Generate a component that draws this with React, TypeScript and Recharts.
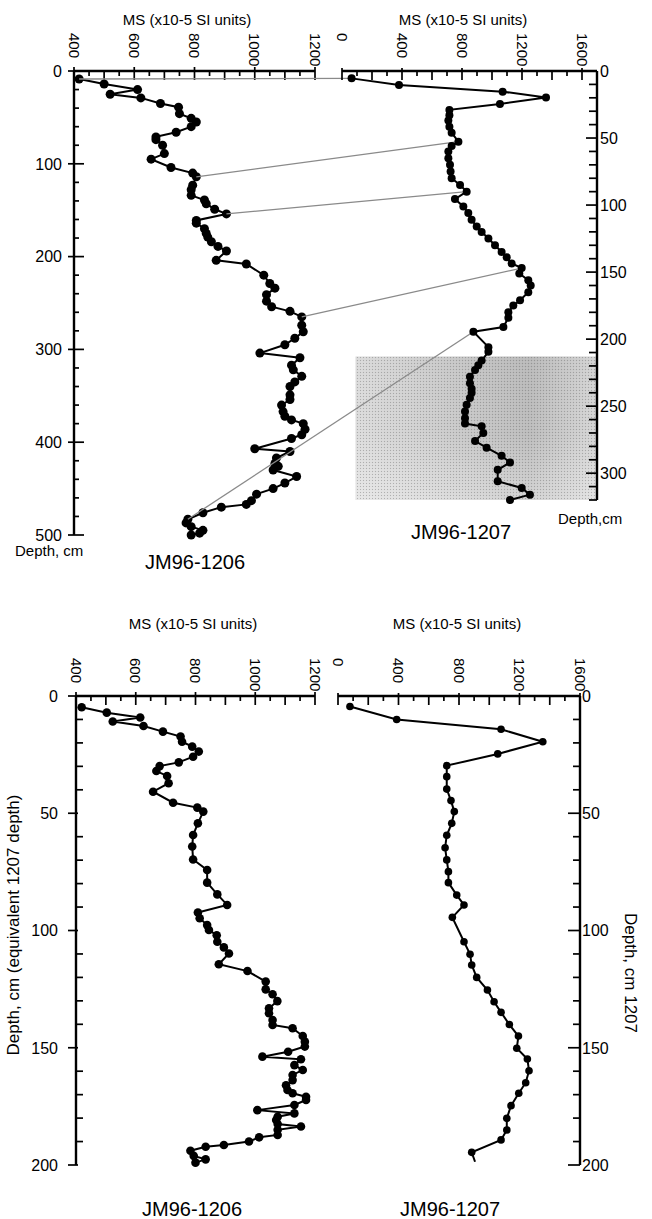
import React, { useEffect, useState } from "react";
import { ScatterChart, Scatter, XAxis, YAxis, ReferenceArea } from "recharts";

const FONT = '"Liberation Sans", Arial, Helvetica, sans-serif';

// JM96-1206, upper panel (own depth scale)
const depth1206 = [8.6, 14, 20, 25, 29, 35, 39, 46, 51, 55, 60, 66, 71, 74, 80, 89, 95, 104, 110, 114, 123, 128, 134, 139, 143, 149, 154, 161, 164, 170, 175, 179, 184, 189, 194, 204, 208, 220, 229, 234, 241, 248, 254, 259, 265, 274, 281, 288, 295, 304, 309, 317, 322, 329, 335, 340, 349, 354, 360, 367, 372, 376, 380, 386, 392, 396, 407, 410, 417, 423, 426, 430, 437, 444, 450, 456, 463, 467, 470, 476, 483, 487, 491, 495, 498, 500];
const ms1206 = [417, 500, 611, 520, 622, 687, 747, 750, 789, 806, 789, 739, 672, 672, 694, 700, 656, 722, 794, 806, 794, 789, 789, 833, 839, 867, 906, 806, 806, 833, 839, 844, 856, 878, 906, 872, 972, 1030, 1050, 1067, 1039, 1039, 1056, 1117, 1156, 1156, 1161, 1133, 1100, 1017, 1150, 1122, 1128, 1156, 1133, 1117, 1117, 1117, 1089, 1094, 1100, 1122, 1161, 1167, 1156, 1122, 1000, 1117, 1072, 1067, 1078, 1061, 1139, 1100, 1061, 1006, 989, 972, 889, 828, 778, 772, 789, 828, 817, 789];

// JM96-1207, upper panel
const depth1207 = [5.5, 10.4, 15.4, 19.7, 24.6, 29, 33, 37, 41.5, 46, 52.7, 56, 60, 65, 70, 75, 80, 85, 90, 95.5, 101, 106, 111, 116, 120, 125, 130, 135, 139, 143.5, 147, 151, 156, 160, 165, 171, 175, 180, 184, 191, 194.5, 206, 209.5, 216, 219.5, 223, 228, 233, 237, 240, 244, 249, 254, 259, 263, 265, 270, 276, 281, 287, 292, 297.5, 306, 311, 316, 320];
const ms1207 = [64, 380, 1071, 1360, 1053, 716, 716, 709, 716, 731, 776, 731, 709, 709, 720, 724, 731, 787, 831, 753, 809, 842, 864, 898, 931, 976, 1020, 1064, 1098, 1131, 1198, 1182, 1242, 1258, 1242, 1187, 1142, 1109, 1109, 1076, 876, 976, 976, 931, 909, 887, 853, 853, 864, 864, 853, 831, 820, 820, 820, 931, 942, 887, 964, 1064, 1120, 1038, 1038, 1198, 1253, 1120];

// correlation tie points: depth in 1206 -> depth in 1207
const tieDepth1206 = [8.6, 114, 154, 265, 483];
const tieDepth1207 = [5.5, 52.7, 90, 147, 194.5];

// lower panel: 1206 on equivalent 1207 depth
const eqDepth1206 = [4.8, 7.1, 9.2, 10.9, 12.8, 15.2, 17.3, 19.5, 21.6, 23.7, 25.9, 28.3, 29.9, 32, 34.1, 37.2, 40.8, 45.5, 47.6, 49.3, 54.3, 59.3, 64.2, 69.7, 74.2, 79.6, 84.6, 89.1, 92.3, 94.8, 97.7, 99.8, 102, 104.8, 107.2, 109.8, 114.4, 117.3, 121.8, 125.1, 127.2, 130.1, 133.2, 135.3, 138.2, 140.3, 141.7, 145, 147.4, 149.5, 151.7, 153.8, 154.9, 157.4, 159.5, 161.6, 163.8, 166, 168, 169.4, 170.9, 172.3, 174.4, 176.6, 178, 179.4, 180.8, 182.5, 183.6, 185, 187.2, 188.2, 190, 191.5, 192.2, 193.9, 196.1, 197.6, 199];
const eqMs1206 = [419, 503, 615, 523, 626, 691, 750, 755, 789, 811, 792, 744, 680, 669, 705, 710, 658, 725, 806, 826, 808, 792, 789, 792, 839, 839, 873, 906, 808, 814, 839, 845, 871, 873, 895, 912, 878, 974, 1035, 1035, 1058, 1074, 1046, 1046, 1058, 1058, 1125, 1159, 1166, 1166, 1110, 1024, 1153, 1131, 1159, 1125, 1125, 1103, 1108, 1125, 1170, 1170, 1131, 1007, 1131, 1075, 1070, 1075, 1153, 1075, 1075, 1013, 979, 895, 834, 783, 794, 834, 800];

// lower panel: 1207
const lowDepth1207 = [4.5, 10, 14.2, 19.5, 24.7, 29.7, 34.4, 39.7, 44.6, 49.3, 54.3, 59.4, 64.7, 69.9, 74.9, 79.6, 84.9, 89.1, 94.4, 104.8, 110.1, 114.7, 120, 125.4, 130.4, 134.9, 140.1, 145, 150.2, 154.8, 159.8, 164.9, 169.4, 174.7, 180.1, 185.1, 189.3, 194.6, 198.6];
const lowMs1207 = [79, 388, 1078, 1354, 1056, 719, 719, 719, 747, 769, 752, 719, 708, 719, 730, 730, 785, 833, 756, 833, 873, 884, 917, 988, 1032, 1078, 1133, 1193, 1182, 1252, 1263, 1241, 1195, 1144, 1116, 1116, 1078, 884, 906];

// axis ticks
const msTicks1206 = [400, 450, 500, 550, 600, 650, 700, 750, 800, 850, 900, 950, 1000, 1050, 1100, 1150, 1200];
const msTicks1207 = [0, 100, 200, 300, 400, 500, 600, 700, 800, 900, 1000, 1100, 1200, 1300, 1400, 1500, 1600, 1700];
const msTicks1207Low = [0, 100, 200, 300, 400, 500, 600, 700, 800, 900, 1000, 1100, 1200, 1300, 1400, 1500, 1600];
const depthTicks1206 = [0, 20, 40, 60, 80, 100, 120, 140, 160, 180, 200, 220, 240, 260, 280, 300, 320, 340, 360, 380, 400, 420, 440, 460, 480, 500];
const depthTicks1207 = [0, 10, 20, 30, 40, 50, 60, 70, 80, 90, 100, 110, 120, 130, 140, 150, 160, 170, 180, 190, 200, 210, 220, 230, 240, 250, 260, 270, 280, 290, 300, 310, 320];
const depthTicksLow = [0, 10, 20, 30, 40, 50, 60, 70, 80, 90, 100, 110, 120, 130, 140, 150, 160, 170, 180, 190, 200];

type Pt = { depth: number; ms: number; tie?: number; bare?: boolean };

function toPoints(depths: number[], values: number[], ties: number[] = [], bareLast = false): Pt[] {
  return depths.map((d, i) => {
    const t = ties.indexOf(d);
    return {
      depth: d,
      ms: values[i],
      tie: t >= 0 ? t : undefined,
      bare: bareLast && i === depths.length - 1,
    };
  });
}

const upper1206 = toPoints(depth1206, ms1206, tieDepth1206);
const upper1207 = toPoints(depth1207, ms1207, tieDepth1207);
const lower1206 = toPoints(eqDepth1206, eqMs1206);
const lower1207 = toPoints(lowDepth1207, lowMs1207, [], true);

// chart boxes on the page (axes are 1px thick boxes, so the plot edge is margin + 1)
const A = { left: 0, top: 0, w: 330, h: 580, m: { top: 70, left: 73, right: 15, bottom: 45 } };
const B = { left: 330, top: 0, w: 322, h: 580, m: { top: 70, left: 12, right: 54, bottom: 80 } };
const C = { left: 0, top: 600, w: 330, h: 619, m: { top: 95, left: 75, right: 15, bottom: 54 } };
const D = { left: 330, top: 600, w: 322, h: 619, m: { top: 95, left: 8, right: 71, bottom: 54 } };

type TickSpec = {
  side: "top" | "left" | "right";
  isLabel: (v: number) => boolean;
  isLong: (v: number) => boolean;
  longIn: number;
  shortIn: number;
  out: number;
  gap: number;
  fontSize: number;
};

function axisTick(s: TickSpec) {
  return (props: any) => {
    const { x, y, payload } = props;
    const v = payload.value as number;
    const lab = s.isLabel(v);
    const len = s.isLong(v) ? s.longIn : s.shortIn;
    const out = lab ? s.out : 0;
    const common = { fill: "#000", fontFamily: FONT, fontSize: s.fontSize };
    if (s.side === "top") {
      const ly = y - s.gap;
      return (
        <g>
          <line x1={x} y1={y - out} x2={x} y2={y + len} stroke="#000" strokeWidth={1.7} />
          {lab && (
            <text {...common} x={x} y={ly} dy="0.36em" textAnchor="start" transform={`rotate(90 ${x} ${ly})`}>
              {v}
            </text>
          )}
        </g>
      );
    }
    if (s.side === "left") {
      return (
        <g>
          <line x1={x - out} y1={y} x2={x + len} y2={y} stroke="#000" strokeWidth={1.7} />
          {lab && (
            <text {...common} x={x - s.gap} y={y} dy="0.36em" textAnchor="end">
              {v}
            </text>
          )}
        </g>
      );
    }
    return (
      <g>
        <line x1={x + out} y1={y} x2={x - len} y2={y} stroke="#000" strokeWidth={1.7} />
        {lab && (
          <text {...common} x={x + s.gap} y={y} dy="0.36em" textAnchor="start">
            {v}
          </text>
        )}
      </g>
    );
  };
}

const tickMs1206 = axisTick({
  side: "top", isLabel: (v) => v % 200 === 0, isLong: (v) => v % 100 === 0,
  longIn: 9, shortIn: 5, out: 4, gap: 38, fontSize: 15,
});
const tickMs1207 = axisTick({
  side: "top", isLabel: (v) => v % 400 === 0, isLong: (v) => v % 200 === 0,
  longIn: 9, shortIn: 5, out: 3, gap: 38, fontSize: 15,
});
const tickDepthA = axisTick({
  side: "left", isLabel: (v) => v % 100 === 0, isLong: (v) => v % 100 === 0,
  longIn: 10, shortIn: 5, out: 6, gap: 12, fontSize: 16,
});
const tickDepthB = axisTick({
  side: "right", isLabel: (v) => v % 50 === 0, isLong: (v) => v % 50 === 0,
  longIn: 11, shortIn: 8, out: 0, gap: 3, fontSize: 16,
});
const tickDepthC = axisTick({
  side: "left", isLabel: (v) => v % 50 === 0, isLong: (v) => v % 50 === 0,
  longIn: 2, shortIn: 7, out: 8, gap: 18, fontSize: 16,
});
const tickDepthD = axisTick({
  side: "right", isLabel: (v) => v % 50 === 0, isLong: (v) => v % 50 === 0,
  longIn: 12, shortIn: 7, out: 0, gap: 2, fontSize: 16,
});

// pixel positions of the 1206 tie points, expressed in chart B coordinates
const tiePx: Record<number, { x: number; y: number }> = {};
let onTieMoved: (() => void) | null = null;

function keepTie(id: number, x: number, y: number) {
  const p = tiePx[id];
  if (p && Math.abs(p.x - x) < 0.01 && Math.abs(p.y - y) < 0.01) return;
  tiePx[id] = { x, y };
  queueMicrotask(() => onTieMoved && onTieMoved());
}

const dot = (r: number) => (props: any) => {
  const { cx, cy, payload } = props;
  if (payload?.bare) return <g />;
  return <circle cx={cx} cy={cy} r={r} fill="#000" />;
};

const dotA = (props: any) => {
  const { cx, cy, payload } = props;
  if (payload?.tie !== undefined && Number.isFinite(cx) && Number.isFinite(cy)) {
    keepTie(payload.tie, cx + A.left - B.left, cy + A.top - B.top);
  }
  return <circle cx={cx} cy={cy} r={4.5} fill="#000" />;
};

const dotB = (props: any) => {
  const { cx, cy, payload } = props;
  const from = payload?.tie !== undefined ? tiePx[payload.tie] : undefined;
  return (
    <g>
      {from && <line x1={from.x} y1={from.y} x2={cx} y2={cy} stroke="#8a8a8a" strokeWidth={1.3} />}
      <circle cx={cx} cy={cy} r={4} fill="#000" />
    </g>
  );
};

const axisLine = { stroke: "#000", strokeWidth: 2.4 };
const seriesLine = { stroke: "#000", strokeWidth: 2 };
const axisBox = { height: 1, tickSize: 0, tickMargin: 0, tickLine: false, interval: 0 as const };

export default function App() {
  const [ver, setVer] = useState(0);
  useEffect(() => {
    onTieMoved = () => setVer((v) => v + 1);
    setVer((v) => v + 1);
    return () => {
      onTieMoved = null;
    };
  }, []);

  const title = "MS (x10-5 SI units)";

  return (
    <div style={{ position: "absolute", left: 0, top: 0, width: 652, height: 1219, background: "#fff", fontFamily: FONT }}>
      <style>{".ties .recharts-surface{overflow:visible}"}</style>

      <svg width={652} height={1219} style={{ position: "absolute", left: 0, top: 0 }} fontFamily={FONT} fill="#000">
        <text x={187} y={25} fontSize={15} textAnchor="middle">{title}</text>
        <text x={463} y={25} fontSize={15} textAnchor="middle">{title}</text>
        <text x={15} y={556} fontSize={15}>Depth, cm</text>
        <text x={195} y={569} fontSize={20} textAnchor="middle">JM96-1206</text>
        <text x={558} y={524} fontSize={15}>Depth,cm</text>
        <text x={461} y={539} fontSize={20} textAnchor="middle">JM96-1207</text>

        <text x={193} y={629} fontSize={15} textAnchor="middle">{title}</text>
        <text x={457} y={629} fontSize={15} textAnchor="middle">{title}</text>
        <text x={19} y={925} fontSize={17} textAnchor="middle" transform="rotate(-90 19 925)">
          Depth, cm (equivalent 1207 depth)
        </text>
        <text x={625} y={913} fontSize={17} textAnchor="start" transform="rotate(90 625 913)">
          Depth, cm 1207
        </text>
        <text x={192} y={1216} fontSize={20} textAnchor="middle">JM96-1206</text>
        <text x={450} y={1216} fontSize={20} textAnchor="middle">JM96-1207</text>
      </svg>

      <div style={{ position: "absolute", left: A.left, top: A.top }}>
        <ScatterChart width={A.w} height={A.h} margin={A.m}>
          <XAxis type="number" dataKey="ms" orientation="top" domain={[400, 1200]} ticks={msTicks1206}
            {...axisBox} axisLine={axisLine} tick={tickMs1206} />
          <YAxis type="number" dataKey="depth" reversed domain={[0, 500]} ticks={depthTicks1206}
            {...axisBox} width={1} axisLine={axisLine} tick={tickDepthA} />
          <Scatter data={upper1206} line={seriesLine} shape={dotA} isAnimationActive={false} />
        </ScatterChart>
      </div>

      <div style={{ position: "absolute", left: B.left, top: B.top }} className="ties">
        <ScatterChart key={`b${ver}`} width={B.w} height={B.h} margin={B.m}>
          <defs>
            <linearGradient id="shadeH" x1="0" y1="0" x2="1" y2="0">
              <stop offset="0%" stopColor="#d9d9d9" />
              <stop offset="40%" stopColor="#c6c6c6" />
              <stop offset="72%" stopColor="#b7b7b7" />
              <stop offset="100%" stopColor="#d2d2d2" />
            </linearGradient>
            <linearGradient id="shadeV" x1="0" y1="0" x2="0" y2="1">
              <stop offset="0%" stopColor="#fff" stopOpacity={0} />
              <stop offset="55%" stopColor="#fff" stopOpacity={0.05} />
              <stop offset="100%" stopColor="#fff" stopOpacity={0.35} />
            </linearGradient>
            <pattern id="stipple" width="3" height="3" patternUnits="userSpaceOnUse">
              <rect x="0" y="0" width="1" height="1" fill="#555" fillOpacity={0.35} />
              <rect x="1.5" y="1.5" width="1" height="1" fill="#fff" fillOpacity={0.3} />
            </pattern>
          </defs>
          <XAxis type="number" dataKey="ms" orientation="top" domain={[0, 1700]} ticks={msTicks1207}
            {...axisBox} axisLine={axisLine} tick={tickMs1207} />
          <YAxis type="number" dataKey="depth" orientation="right" reversed domain={[0, 320]} ticks={depthTicks1207}
            {...axisBox} width={1} axisLine={axisLine} tick={tickDepthB} />
          <ReferenceArea x1={90} x2={1700} y1={213} y2={320} fill="url(#shadeH)" fillOpacity={1} stroke="none" />
          <ReferenceArea x1={90} x2={1700} y1={213} y2={320} fill="url(#shadeV)" fillOpacity={1} stroke="none" />
          <ReferenceArea x1={90} x2={1700} y1={213} y2={320} fill="url(#stipple)" fillOpacity={1} stroke="none" />
          <Scatter data={upper1207} line={seriesLine} shape={dotB} isAnimationActive={false} />
        </ScatterChart>
      </div>

      <div style={{ position: "absolute", left: C.left, top: C.top }}>
        <ScatterChart width={C.w} height={C.h} margin={C.m}>
          <XAxis type="number" dataKey="ms" orientation="top" domain={[400, 1200]} ticks={msTicks1206}
            {...axisBox} axisLine={axisLine} tick={tickMs1206} />
          <YAxis type="number" dataKey="depth" reversed domain={[0, 200]} ticks={depthTicksLow}
            {...axisBox} width={1} axisLine={axisLine} tick={tickDepthC} />
          <Scatter data={lower1206} line={seriesLine} shape={dot(4.3)} isAnimationActive={false} />
        </ScatterChart>
      </div>

      <div style={{ position: "absolute", left: D.left, top: D.top }}>
        <ScatterChart width={D.w} height={D.h} margin={D.m}>
          <XAxis type="number" dataKey="ms" orientation="top" domain={[0, 1600]} ticks={msTicks1207Low}
            {...axisBox} axisLine={axisLine} tick={tickMs1207} />
          <YAxis type="number" dataKey="depth" orientation="right" reversed domain={[0, 200]} ticks={depthTicksLow}
            {...axisBox} width={1} axisLine={axisLine} tick={tickDepthD} />
          <Scatter data={lower1207} line={seriesLine} shape={dot(3.8)} isAnimationActive={false} />
        </ScatterChart>
      </div>
    </div>
  );
}
